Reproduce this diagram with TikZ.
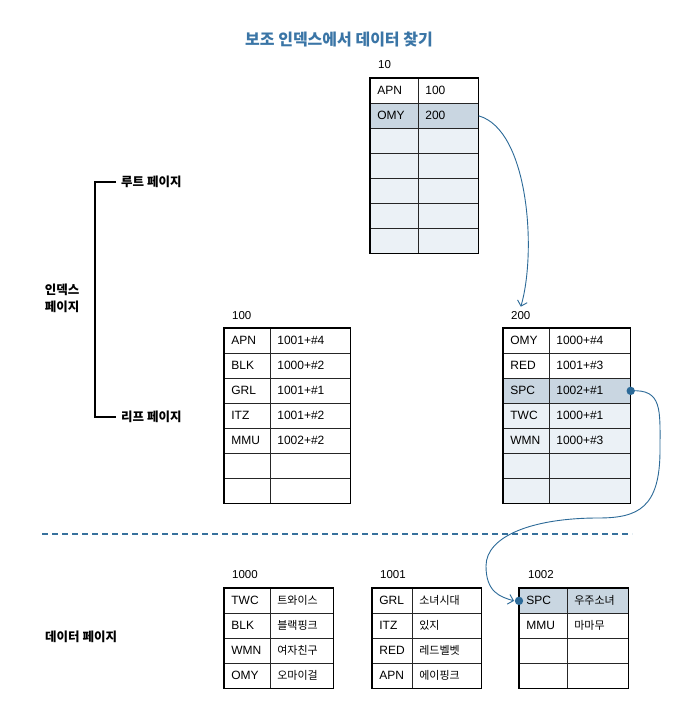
\documentclass[tikz,border=0pt]{standalone}
\usepackage{fontspec}
\setmainfont{Liberation Sans}
\newfontfamily\kr{Noto Sans CJK KR}
\usetikzlibrary{arrows.meta}

\definecolor{selfill}{HTML}{C9D6E1}
\definecolor{lightfill}{HTML}{EBF1F6}
\definecolor{linkblue}{HTML}{2C6A98}
\definecolor{titleblue}{HTML}{3A75A6}

\tikzset{
  cell/.style={draw=black!85, line width=0.7pt, anchor=north west, minimum height=25pt,
    inner xsep=7pt, inner ysep=0pt, align=left, font=\fontsize{12}{14}\selectfont, text=black},
  krcell/.style={cell, font=\kr\fontsize{11}{14}\selectfont},
  pageframe/.style={draw=black, line width=1.5pt},
  pagelbl/.style={anchor=west, font=\fontsize{11.5}{13}\selectfont, inner sep=0pt},
  sidelbl/.style={font=\kr\bfseries\fontsize{12.5}{17}\selectfont, inner sep=0pt},
  flow/.style={linkblue, line width=0.9pt, -{Straight Barb[length=5pt,width=10pt]}},
}

\begin{document}
\begin{tikzpicture}[x=1pt, y=-1pt]
    \path[use as bounding box, fill=white] (0,0) rectangle (695,704);

    \node[font=\kr\bfseries\fontsize{16}{18}\selectfont, text=titleblue] (title) at (339,40) {보조 인덱스에서 데이터 찾기};

    % root page
    \node[pagelbl] (rootlbl) at (378,65) {10};
    \foreach \k/\v/\c [count=\i] in {APN/100/white, OMY/200/selfill, {}/{}/lightfill, {}/{}/lightfill, {}/{}/lightfill, {}/{}/lightfill, {}/{}/lightfill} {
        \node[cell, fill=\c, text width=34pt] (root-\i-k) at (370,{78+25*(\i-1)}) {\k};
        \node[cell, fill=\c, text width=46pt] (root-\i-v) at (418,{78+25*(\i-1)}) {\v};
    }
    \draw[pageframe] (root-1-k.north west) rectangle (root-7-v.south east);

    % leaf pages
    \node[pagelbl] (l100lbl) at (232,316) {100};
    \foreach \k/\v [count=\i] in {APN/1001+\#4, BLK/1000+\#2, GRL/1001+\#1, ITZ/1001+\#2, MMU/1002+\#2, {}/{}, {}/{}} {
        \node[cell, text width=32pt] (l100-\i-k) at (224,{328+25*(\i-1)}) {\k};
        \node[cell, text width=66pt] (l100-\i-v) at (270,{328+25*(\i-1)}) {\v};
    }
    \draw[pageframe] (l100-1-k.north west) rectangle (l100-7-v.south east);

    \node[pagelbl] (l200lbl) at (511,316) {200};
    \foreach \k/\v/\c [count=\i] in {OMY/1000+\#4/white, RED/1001+\#3/white, SPC/1002+\#1/selfill, TWC/1000+\#1/lightfill, WMN/1000+\#3/lightfill, {}/{}/lightfill, {}/{}/lightfill} {
        \node[cell, fill=\c, text width=32pt] (l200-\i-k) at (503,{328+25*(\i-1)}) {\k};
        \node[cell, fill=\c, text width=67pt] (l200-\i-v) at (549,{328+25*(\i-1)}) {\v};
    }
    \draw[pageframe] (l200-1-k.north west) rectangle (l200-7-v.south east);

    % data pages
    \node[pagelbl] (d1000lbl) at (232,575) {1000};
    \foreach \k/\v [count=\i] in {TWC/트와이스, BLK/블랙핑크, WMN/여자친구, OMY/오마이걸} {
        \node[cell, text width=32pt] (d1000-\i-k) at (224,{588+25*(\i-1)}) {\k};
        \node[krcell, text width=49pt] (d1000-\i-v) at (270,{588+25*(\i-1)}) {\v};
    }
    \draw[pageframe] (d1000-1-k.north west) rectangle (d1000-4-v.south east);

    \node[pagelbl] (d1001lbl) at (380,575) {1001};
    \foreach \k/\v [count=\i] in {GRL/소녀시대, ITZ/있지, RED/레드벨벳, APN/에이핑크} {
        \node[cell, text width=26pt] (d1001-\i-k) at (372,{588+25*(\i-1)}) {\k};
        \node[krcell, text width=55pt] (d1001-\i-v) at (412,{588+25*(\i-1)}) {\v};
    }
    \draw[pageframe] (d1001-1-k.north west) rectangle (d1001-4-v.south east);

    \node[pagelbl] (d1002lbl) at (528,575) {1002};
    \foreach \k/\v/\c [count=\i] in {SPC/우주소녀/selfill, MMU/마마무/white, {}/{}/white, {}/{}/white} {
        \node[cell, fill=\c, text width=34pt] (d1002-\i-k) at (519,{588+25*(\i-1)}) {\k};
        \node[krcell, fill=\c, text width=47pt] (d1002-\i-v) at (567,{588+25*(\i-1)}) {\v};
    }
    \draw[pageframe] (d1002-1-k.north west) rectangle (d1002-4-v.south east);

    % side labels
    \node[sidelbl, anchor=west] (rootside) at (121,182) {루트 페이지};
    \node[sidelbl, anchor=west] (leafside) at (121,417) {리프 페이지};
    \node[sidelbl, align=center] (indexside) at (62,298) {인덱스\\페이지};
    \node[sidelbl, anchor=west] (dataside) at (45,637) {데이터 페이지};
    \draw[line width=1.3pt] ([xshift=-5pt]rootside.west) -- ++(-21,0) |- ([xshift=-5pt]leafside.west);

    \draw[linkblue!95, line width=1.6pt, dash pattern=on 6pt off 4pt] (42,534) -- (632,534);

    % links
    \draw[flow] (root-2-v.east) .. controls +(50,14) and +(16,-55) .. ([yshift=5pt]l200lbl.north);

    \fill[linkblue] (l200-3-v.east) circle (4.2pt);
    \draw[flow] (l200-3-v.east) .. controls +(32,-2) and +(0,-40) .. (660,450)
        .. controls +(0,58) and +(40,0) .. (598,518)
        .. controls +(-65,0) and +(0,-30) .. (486,566)
        .. controls +(0,26) and +(-14,-4) .. ([xshift=-5pt]d1002-1-k.west);
    \fill[linkblue] (d1002-1-k.west) circle (4.2pt);

\end{tikzpicture}
\end{document}
